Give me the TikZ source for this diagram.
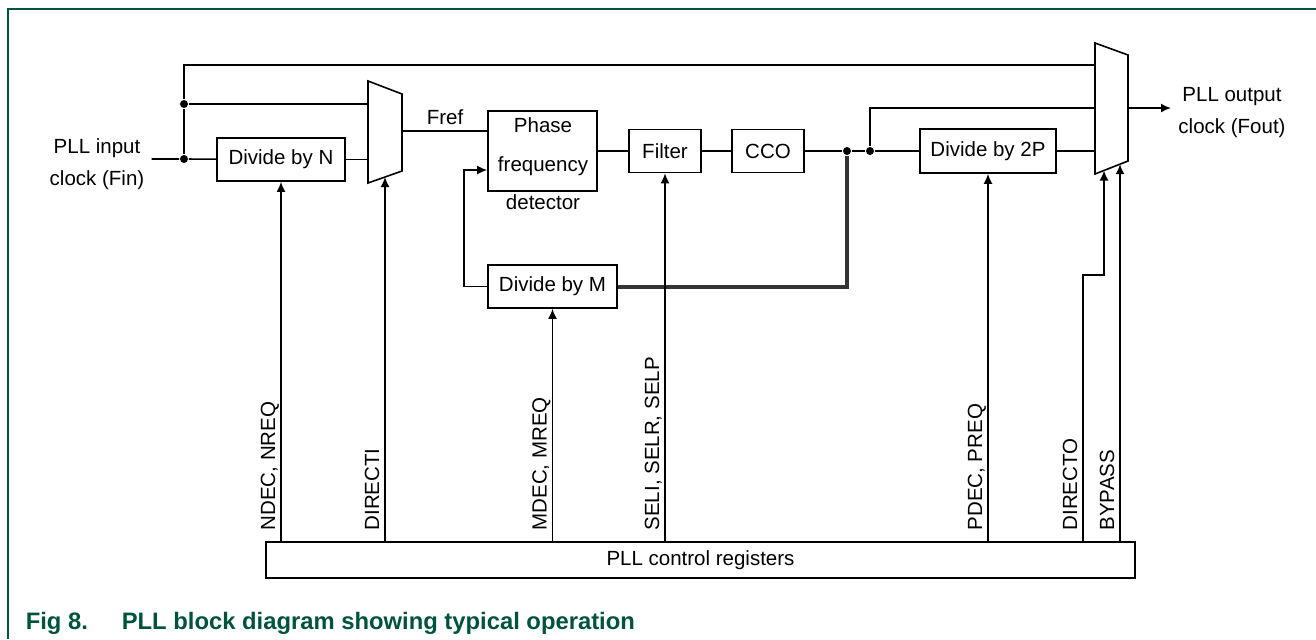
\documentclass[tikz,border=0pt]{standalone}
\usepackage{fontspec}
\setmainfont{Liberation Sans}
\usepackage{xcolor}
\usetikzlibrary{arrows.meta,calc}
\definecolor{nxpgreen}{RGB}{0,84,62}

\begin{document}
\begin{tikzpicture}[x=0.5pt,y=-0.5pt,>={Latex[length=5pt,width=4.5pt]},
  line width=0.8pt,font=\fontsize{10.25}{16}\selectfont,
  blk/.style={draw,inner sep=0pt,minimum height=21.5pt},
  sig/.style={rotate=90,anchor=base west,inner sep=0pt},
  junction/.style={circle,fill,inner sep=0pt,minimum size=4pt},
  fbwire/.style={line width=2pt,draw=black!80},
  capt/.style={anchor=base west,inner sep=0pt,text=nxpgreen,
    font=\fontsize{11.9}{14}\selectfont\bfseries}]

\useasboundingbox (0,0) rectangle (1316,639);
\draw[nxpgreen,line width=1pt] (8,639) -- (8,9) -- (1316,9);

\node[align=center] (fin) at (97,164) {PLL input\\clock (Fin)};
\node[junction] (dotb) at (184,159) {};
\node[junction] (dota) at (184,104) {};
\node[blk,minimum width=64pt] (divn) at (281,159.5) {Divide by N};

\coordinate (m1in1) at (368,104);
\coordinate (m1in2) at (368,159.5);
\coordinate (m1out) at (402,131);
\coordinate (m1sel) at (385,177);
\draw (368,81) -- (402,94) -- (402,171) -- (368,183) -- cycle;

\node (fref) at (445,117) {Fref};
\node[blk,minimum width=54.5pt,minimum height=40pt] (pfd) at (542.5,151) {};
\node[align=center,font=\fontsize{10.25}{19.25}\selectfont] (pfdtxt) at (543,164) {Phase\\frequency\\detector};
\node[blk,minimum width=36pt] (filt) at (665,151) {Filter};
\node[blk,minimum width=36pt] (cco) at (768,151) {CCO};
\node[junction] (dotc) at (847,151) {};
\node[junction] (dotd) at (870,151) {};
\node[blk,minimum width=68pt,minimum height=22pt] (div2p) at (988,151) {Divide by 2P};
\node[blk,minimum width=64.5pt] (divm) at (552.5,286.5) {Divide by M};

\coordinate (m2in0) at (1095,65);
\coordinate (m2in1) at (1095,108);
\coordinate (m2in2) at (1095,151);
\coordinate (m2out) at (1128,108);
\coordinate (m2sel1) at (1104,170.5);
\coordinate (m2sel2) at (1120,164.2);
\draw (1095,43) -- (1128,55) -- (1128,161) -- (1095,174) -- cycle;

\node[align=center] (fout) at (1232,113) {PLL output\\clock (Fout)};
\node[draw,inner sep=0pt,minimum width=434.5pt,minimum height=18pt] (reg) at (700.5,560) {PLL control registers};
\coordinate (dirO) at (1083,275);

\draw (fin.east |- dotb) -- (dotb) -- (divn);
\draw (dotb) -- (dota) |- (m2in0);
\draw (dota) -- (m1in1);
\draw (divn.east) -- (m1in2);
\draw (m1out) -- (m1out -| pfd.west);
\draw (pfd) -- (filt);
\draw (filt) -- (cco);
\draw (cco) -- (dotc) -- (dotd) -- (div2p);
\draw (dotd) |- (m2in1);
\draw (div2p) -- (m2in2);
\draw[->] (m2out) -- (fout.west |- m2out);
\draw[fbwire] (divm.east) -| (dotc);
\draw[->] (divm.west) -- ++(-23,0) |- ($(pfd.west)+(0,19)$);

\draw[->] (reg.north -| divn) -- (divn);
\draw[->] (reg.north -| m1sel) -- (m1sel);
\draw[->] (reg.north -| divm) -- (divm);
\draw[->] (reg.north -| filt) -- (filt);
\draw[->] (reg.north -| div2p) -- (div2p);
\draw[->] (reg.north -| dirO) -- (dirO) -| (m2sel1);
\draw[->] (reg.north -| m2sel2) -- (m2sel2);

\node[sig] (ndec) at ($(reg.north -| divn)+(-6,-10)$) {NDEC, NREQ};
\node[sig] (diri) at ($(reg.north -| m1sel)+(-6,-10)$) {DIRECTI};
\node[sig] (mdec) at ($(reg.north -| divm)+(-6,-10)$) {MDEC, MREQ};
\node[sig] (sel) at ($(reg.north -| filt)+(-6,-10)$) {SELI, SELR, SELP};
\node[sig] (pdec) at ($(reg.north -| div2p)+(-6,-10)$) {PDEC, PREQ};
\node[sig] (diro) at ($(reg.north -| dirO)+(-6,-10)$) {DIRECTO};
\node[sig] (byp) at ($(reg.north -| m2sel2)+(-6,-10)$) {BYPASS};

\node[capt] (fignum) at (25,629) {Fig 8.};
\node[capt] (figcap) at (121,629) {PLL block diagram showing typical operation};
\end{tikzpicture}
\end{document}
